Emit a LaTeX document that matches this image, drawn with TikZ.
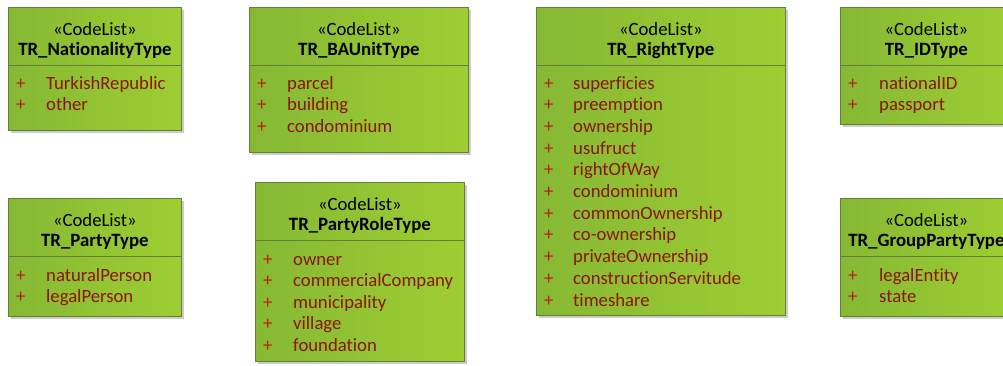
\documentclass[tikz,border=0pt]{standalone}
\usepackage{fontspec}
\setmainfont{Carlito}[Ligatures = NoCommon]
\usetikzlibrary{shadows,positioning}

\definecolor{boxleft}{RGB}{134,184,52}
\definecolor{boxright}{RGB}{158,206,50}
\definecolor{boxline}{RGB}{98,128,58}
\definecolor{attrred}{RGB}{140,20,10}
\definecolor{plusred}{RGB}{190,25,20}

\tikzset{
	codelist/.style = {draw = boxline, line width = .8pt, left color = boxleft, right color = boxright,
		anchor = north west, inner sep = 0pt,
		drop shadow = {shadow xshift = 3pt, shadow yshift = -3pt, fill = black!40, opacity = .5}},
	divider/.style = {draw = boxline, line width = .8pt},
	stereo/.style = {anchor = base, inner sep = 0pt, font = \fontsize{18.7}{22}\selectfont},
	clsname/.style = {anchor = base, inner sep = 0pt, font = \fontsize{18.8}{22}\selectfont\bfseries},
	attr/.style = {anchor = base west, inner sep = 0pt, text = attrred, font = \fontsize{18.7}{22}\selectfont},
	plus/.style = {anchor = base west, inner sep = 0pt, text = plusred, font = \fontsize{18.7}{22}\selectfont}
}

\begin{document}
\begin{tikzpicture}[x = 1pt, y = -1pt]
	\useasboundingbox (0,0) rectangle (1003,365);
	\clip (0,0) rectangle (1003,365);

	% top row
	\node[codelist, minimum width = 173pt, minimum height = 123pt] (nat) at (8,7) {};
	\node[codelist, minimum width = 219pt, minimum height = 145pt] (unit) at (249,7) {};
	\node[codelist, minimum width = 249pt, minimum height = 308pt] (right) at (536,7) {};
	\node[codelist, minimum width = 172pt, minimum height = 117pt] (id) at (840,7) {};
	% bottom row
	\node[codelist, minimum width = 173pt, minimum height = 118pt] (party) at (8,198) {};
	\node[codelist, minimum width = 209pt, minimum height = 179pt] (role) at (255,182) {};
	\node[codelist, minimum width = 172pt, minimum height = 118pt] (group) at (840,198) {};

	% headers and dividers
	\foreach \b/\n in {nat/TR\_NationalityType, unit/TR\_BAUnitType, right/TR\_RightType, id/TR\_IDType,
			party/TR\_PartyType, role/TR\_PartyRoleType, group/TR\_GroupPartyType} {
		\node[stereo] (\b-st) at ([yshift = -28pt]\b.north) {«CodeList»};
		\node[clsname] (\b-nm) at ([yshift = -48.5pt]\b.north) {\n};
		\draw[divider] ([yshift = -58.5pt]\b.north west) -- ([yshift = -58.5pt]\b.north east);
	}

	% literals
	\foreach \t [count = \i] in {TurkishRepublic, other} {
		\node[plus] (nat-p\i) at ([xshift = 8pt, yshift = {-82-21.6*(\i-1)}]nat.north west) {+};
		\node[attr] (nat-\i) at ([xshift = 38pt, yshift = {-82-21.6*(\i-1)}]nat.north west) {\t};
	}
	\foreach \t [count = \i] in {parcel, building, condominium} {
		\node[plus] (unit-p\i) at ([xshift = 8pt, yshift = {-82-21.6*(\i-1)}]unit.north west) {+};
		\node[attr] (unit-\i) at ([xshift = 38pt, yshift = {-82-21.6*(\i-1)}]unit.north west) {\t};
	}
	\foreach \t [count = \i] in {superficies, preemption, ownership, usufruct, rightOfWay, condominium,
			commonOwnership, co-ownership, privateOwnership, constructionServitude, timeshare} {
		\node[plus] (right-p\i) at ([xshift = 8pt, yshift = {-82-21.7*(\i-1)}]right.north west) {+};
		\node[attr] (right-\i) at ([xshift = 37pt, yshift = {-82-21.7*(\i-1)}]right.north west) {\t};
	}
	\foreach \t [count = \i] in {nationalID, passport} {
		\node[plus] (id-p\i) at ([xshift = 8pt, yshift = {-82-21.6*(\i-1)}]id.north west) {+};
		\node[attr] (id-\i) at ([xshift = 39pt, yshift = {-82-21.6*(\i-1)}]id.north west) {\t};
	}
	\foreach \t [count = \i] in {naturalPerson, legalPerson} {
		\node[plus] (party-p\i) at ([xshift = 8pt, yshift = {-83-21.6*(\i-1)}]party.north west) {+};
		\node[attr] (party-\i) at ([xshift = 38pt, yshift = {-83-21.6*(\i-1)}]party.north west) {\t};
	}
	\foreach \t [count = \i] in {owner, commercialCompany, municipality, village, foundation} {
		\node[plus] (role-p\i) at ([xshift = 8pt, yshift = {-83-21.6*(\i-1)}]role.north west) {+};
		\node[attr] (role-\i) at ([xshift = 38pt, yshift = {-83-21.6*(\i-1)}]role.north west) {\t};
	}
	\foreach \t [count = \i] in {legalEntity, state} {
		\node[plus] (group-p\i) at ([xshift = 8pt, yshift = {-83-21.6*(\i-1)}]group.north west) {+};
		\node[attr] (group-\i) at ([xshift = 39pt, yshift = {-83-21.6*(\i-1)}]group.north west) {\t};
	}
\end{tikzpicture}
\end{document}
